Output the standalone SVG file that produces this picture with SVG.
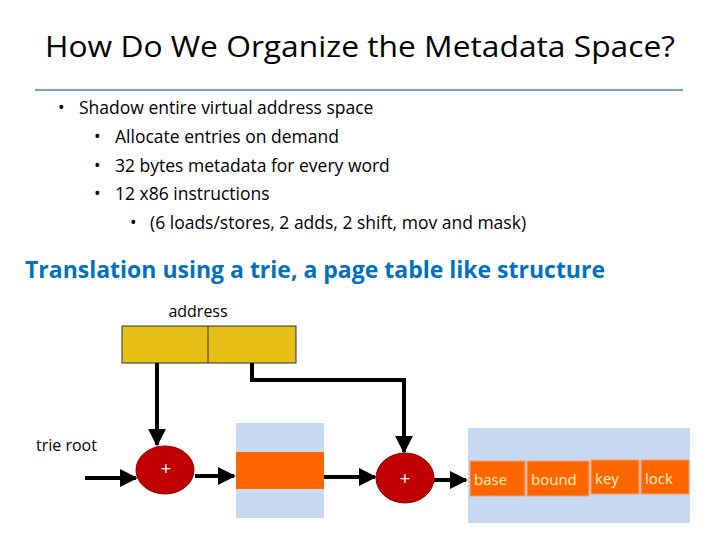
<svg xmlns="http://www.w3.org/2000/svg" width="720" height="540" viewBox="0 0 720 540">
<defs>
<marker id="ah" viewBox="0 0 10 10" refX="9" refY="5" markerWidth="4.5" markerHeight="4.5" orient="auto"><path d="M0,0 L10,5 L0,10 z" fill="#000"/></marker>
<style>
text{font-family:"Open Sans","Liberation Sans",sans-serif;}
.b{font-size:17.5px;fill:#000}
.c{stroke:#000;stroke-width:4;fill:none;marker-end:url(#ah)}
.cell{fill:#FF6600;stroke:#F4A070;stroke-width:1}
.w{font-size:15px;fill:#FFF3C0}
</style>
</defs>
<rect width="720" height="540" fill="#fff"/>
<text x="360" y="57" text-anchor="middle" font-size="30" fill="#000" textLength="630" lengthAdjust="spacingAndGlyphs">How Do We Organize the Metadata Space?</text>
<line x1="35" y1="90" x2="683" y2="90" stroke="#4F81BD" stroke-width="1.5"/>
<text class="b" x="58" y="114">•</text><text class="b" x="79" y="114">Shadow entire virtual address space</text>
<text class="b" x="94" y="143">•</text><text class="b" x="115" y="143">Allocate entries on demand</text>
<text class="b" x="94" y="172">•</text><text class="b" x="115" y="172">32 bytes metadata for every word</text>
<text class="b" x="94" y="200">•</text><text class="b" x="115" y="200">12 x86 instructions</text>
<text class="b" x="130" y="229">•</text><text class="b" x="150" y="229">(6 loads/stores, 2 adds, 2 shift,  mov and mask)</text>
<text x="25" y="278" font-size="22.5" font-weight="bold" fill="#0070C0" textLength="580" lengthAdjust="spacingAndGlyphs">Translation using a trie, a page table like structure</text>
<g id="address">
<text x="198" y="317" text-anchor="middle" font-size="16">address</text>
<rect x="122" y="326" width="174" height="37" fill="#E6C017" stroke="#333" stroke-width="1"/>
<line x1="208" y1="326" x2="208" y2="363" stroke="#333"/>
</g>
<text x="36" y="451" font-size="16">trie root</text>
<g id="table1">
<rect x="236" y="423" width="88" height="95" fill="#C6D9F1"/>
<rect x="236" y="452" width="88" height="37" fill="#FF6600"/>
</g>
<g id="table2">
<rect x="468" y="428" width="222" height="95" fill="#C6D9F1"/>
<rect class="cell" x="470" y="461" width="55" height="35"/>
<rect class="cell" x="527" y="461" width="62" height="35"/>
<rect class="cell" x="591" y="460" width="48" height="34"/>
<rect class="cell" x="641" y="460" width="48" height="34"/>
<text class="w" x="474" y="485">base</text>
<text class="w" x="531" y="485">bound</text>
<text class="w" x="595" y="484">key</text>
<text class="w" x="645" y="484">lock</text>
</g>
<g id="connectors">
<path class="c" d="M85,478 H136"/>
<path class="c" d="M157,363 V445"/>
<path class="c" d="M195,476 H234"/>
<path class="c" d="M252,363 V380 H404 V452"/>
<path class="c" d="M324,477 H375"/>
<path class="c" d="M434,480 H466"/>
</g>
<g id="plus1">
<ellipse cx="165" cy="470" rx="29" ry="24" fill="#C00000" stroke="#8B0000"/>
<text x="166" y="475" text-anchor="middle" font-size="19" fill="#fff">+</text>
</g>
<g id="plus2">
<ellipse cx="405" cy="478" rx="29" ry="25" fill="#C00000" stroke="#8B0000"/>
<text x="405" y="485" text-anchor="middle" font-size="19" fill="#fff">+</text>
</g>
</svg>
